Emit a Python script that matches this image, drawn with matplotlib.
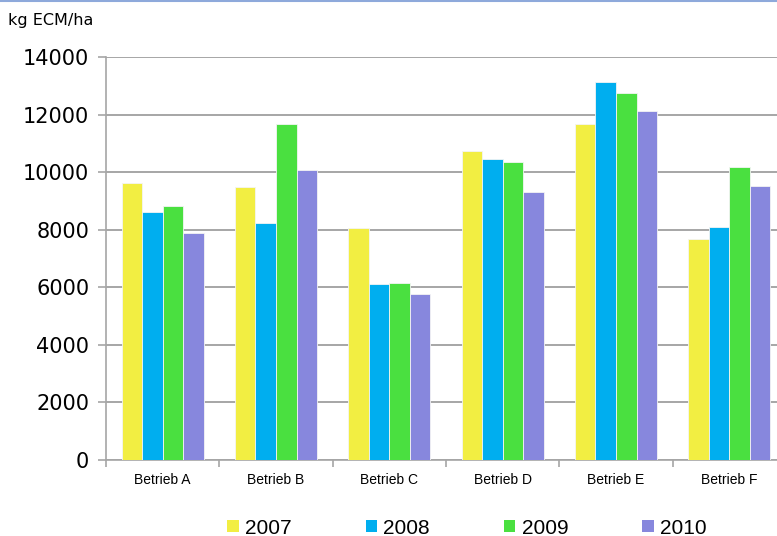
import matplotlib
matplotlib.use("Agg")
import matplotlib.pyplot as plt
from matplotlib.patches import Patch
from matplotlib.lines import Line2D
import numpy as np

categories = ["Betrieb A", "Betrieb B", "Betrieb C", "Betrieb D", "Betrieb E", "Betrieb F"]
years = ["2007", "2008", "2009", "2010"]
v2007 = [9620, 9470, 8070, 10730, 11660, 7690]
v2008 = [8610, 8230, 6110, 10460, 13140, 8080]
v2009 = [8820, 11660, 6140, 10340, 12750, 10170]
v2010 = [7890, 10060, 5750, 9320, 12110, 9510]
series = [v2007, v2008, v2009, v2010]
colors = ["#F2EE42", "#00AEEF", "#4AE040", "#8787DD"]
yticks = [0, 2000, 4000, 6000, 8000, 10000, 12000, 14000]

fig = plt.figure(figsize=(7.77, 5.36), dpi=100)
ax = fig.add_axes([106/777, 1-460/536, (786-106)/777, (460-57)/536])

x = np.arange(len(categories))
bw = 0.181
for i, (vals, c) in enumerate(zip(series, colors)):
    ax.bar(x + (i - 1.5) * bw, vals, width=bw, color=c, edgecolor="#F4F4F4",
           linewidth=0.6, zorder=3)

ax.set_xlim(-0.5, len(categories) - 0.5)
ax.set_ylim(0, 14000)
ax.set_yticks(yticks)
ax.set_yticklabels([str(t) for t in yticks], fontsize=15, family="DejaVu Sans")
ax.yaxis.grid(True, color="#A6A6A6", linewidth=1.4, zorder=0)
ax.set_axisbelow(True)
ax.tick_params(axis="y", length=6, color="#A6A6A6", width=1.2, pad=6)

ax.set_xticks(x)
ax.set_xticklabels(categories, fontsize=10, family=["Liberation Sans"])
ax.tick_params(axis="x", length=0, pad=9)
ax.set_xticks(np.arange(-0.5, len(categories) + 0.5, 1), minor=True)
ax.tick_params(axis="x", which="minor", length=5, color="#A6A6A6", width=1.2)

for s in ["top", "right"]:
    ax.spines[s].set_visible(False)
for s in ["left", "bottom"]:
    ax.spines[s].set_color("#A6A6A6")
    ax.spines[s].set_linewidth(1.2)

fig.text(8/777, 1-20/536, "kg ECM/ha", fontsize=11.5, family="DejaVu Sans",
         va="center", ha="left")

# top border line
fig.add_artist(Line2D([0, 1], [0.999, 0.999], transform=fig.transFigure,
                      color="#8EA9DB", linewidth=1.5))

handles = [Patch(facecolor=c, edgecolor="none") for c in colors]
fig.legend(handles, years, loc="center", bbox_to_anchor=(467/777, 1-528/536),
           ncol=4, frameon=False, handlelength=0.55, handleheight=0.55,
           handletextpad=0.3, columnspacing=3.55, borderpad=0.05,
           prop={"family": ["Liberation Sans"], "size": 15})

fig.savefig("out.png", dpi=100)
